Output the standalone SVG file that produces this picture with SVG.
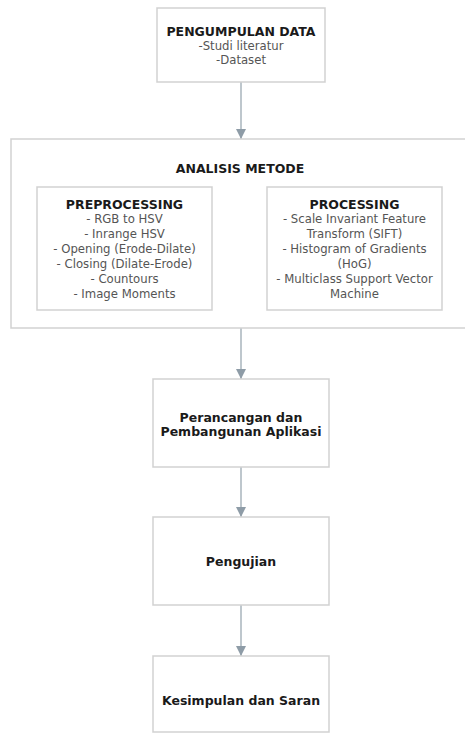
<svg xmlns="http://www.w3.org/2000/svg" width="465" height="740" viewBox="0 0 465 740">
<defs>
<style>
.box{fill:#fff;stroke:#d2d2d2;stroke-width:1.5}
.h{font-family:"DejaVu Sans",Verdana,sans-serif;font-weight:bold;font-size:12.5px;fill:#1a1a1a;text-anchor:middle}
.t{font-family:"DejaVu Sans",Verdana,sans-serif;font-size:11.7px;fill:#555;text-anchor:middle}
.c{stroke:#a9b4bc;stroke-width:1.5;fill:none}
</style>
<marker id="ah" viewBox="0 0 10 10" refX="10" refY="5" markerWidth="10" markerHeight="10" markerUnits="userSpaceOnUse" orient="auto">
<path d="M0,0 L10,5 L0,10 Z" fill="#8e9ca7"/>
</marker>
</defs>
<rect width="465" height="740" fill="#fff"/>
<g id="connectors">
<line class="c" x1="241" y1="82" x2="241" y2="139" marker-end="url(#ah)"/>
<line class="c" x1="212" y1="248" x2="267" y2="248" marker-end="url(#ah)"/>
<line class="c" x1="241" y1="328" x2="241" y2="379" marker-end="url(#ah)"/>
<line class="c" x1="241" y1="467" x2="241" y2="517" marker-end="url(#ah)"/>
<line class="c" x1="241" y1="605" x2="241" y2="656" marker-end="url(#ah)"/>
</g>
<g id="pengumpulan">
<rect class="box" x="157" y="8" width="168" height="74"/>
<text class="h" x="241" y="35.5">PENGUMPULAN DATA</text>
<text class="t" x="241" y="49.5">-Studi literatur</text>
<text class="t" x="241" y="64">-Dataset</text>
</g>
<g id="analisis">
<rect class="box" x="11" y="139" width="462" height="189"/>
<text class="h" x="240" y="172.5">ANALISIS METODE</text>
</g>
<g id="preprocessing">
<rect class="box" x="37" y="187" width="175" height="123"/>
<text class="h" x="124.5" y="208.5">PREPROCESSING</text>
<text class="t" x="124.5" y="223">- RGB to HSV</text>
<text class="t" x="124.5" y="238">- Inrange HSV</text>
<text class="t" x="124.5" y="253">- Opening (Erode-Dilate)</text>
<text class="t" x="124.5" y="268">- Closing (Dilate-Erode)</text>
<text class="t" x="124.5" y="282.5">- Countours</text>
<text class="t" x="124.5" y="297.5">- Image Moments</text>
</g>
<g id="processing">
<rect class="box" x="267" y="187" width="175" height="123"/>
<text class="h" x="354.5" y="208.5">PROCESSING</text>
<text class="t" x="354.5" y="223">- Scale Invariant Feature</text>
<text class="t" x="354.5" y="238">Transform (SIFT)</text>
<text class="t" x="354.5" y="253">- Histogram of Gradients</text>
<text class="t" x="354.5" y="268">(HoG)</text>
<text class="t" x="354.5" y="282.5">- Multiclass Support Vector</text>
<text class="t" x="354.5" y="297.5">Machine</text>
</g>
<g id="perancangan">
<rect class="box" x="153" y="379" width="176" height="88"/>
<text class="h" x="241" y="421.5">Perancangan dan</text>
<text class="h" x="241" y="435.5">Pembangunan Aplikasi</text>
</g>
<g id="pengujian">
<rect class="box" x="153" y="517" width="176" height="88"/>
<text class="h" x="241" y="565.5">Pengujian</text>
</g>
<g id="kesimpulan">
<rect class="box" x="153" y="656" width="176" height="76"/>
<text class="h" x="241" y="704.5">Kesimpulan dan Saran</text>
</g>
</svg>
